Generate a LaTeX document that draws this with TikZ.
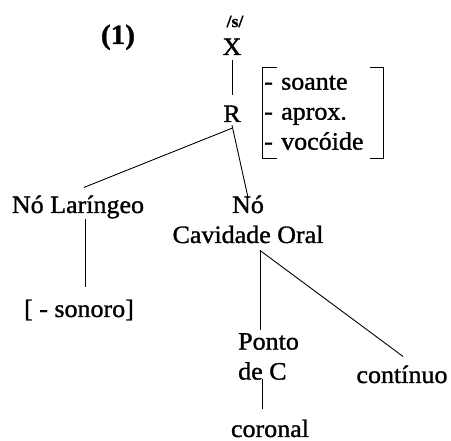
\documentclass[tikz,border=0pt]{standalone}
\usepackage{fontspec}
\setmainfont{Liberation Serif}[FakeStretch=1.04, FakeBold=1.2]
\begin{document}
\begin{tikzpicture}[x=1pt,y=-1pt,
  every node/.style={inner sep=0pt, font=\fontsize{25}{30}\selectfont},
  link/.style={draw, line width=0.9pt}]
\useasboundingbox[fill=white] (0,0) rectangle (451,441);
\node[anchor=base, font=\bfseries\fontsize{28}{30}\selectfont] (num) at (118,44) {(1)};
\node[anchor=base, font=\bfseries\fontsize{17}{17}\selectfont] (s) at (235,27) {/s/};
\node[anchor=base] (X) at (232,55) {X};
\node[anchor=base] (R) at (232,122) {R};
\node[anchor=north west, minimum width=121pt, minimum height=91pt, text width=117pt,
      align=left, inner xsep=2pt] (feat) at (262,67) {- soante\\- aprox.\\- vocóide};
\node[anchor=base] (lar) at (78,213) {Nó Laríngeo};
\node[anchor=base] (no) at (248,213) {Nó};
\node[anchor=base] (cav) at (248,243) {Cavidade Oral};
\node[anchor=base] (son) at (79,317) {[ - sonoro]};
\node[anchor=north west, align=left] (ponto) at (238,333) {Ponto\\de C};
\node[anchor=base] (cont) at (402,383) {contínuo};
\node[anchor=base] (cor) at (270,437) {coronal};
\coordinate (apex) at ([xshift=12pt,yshift=-7pt]cav.south);
% brackets
\draw[link] ([xshift=15pt]feat.north west) -- (feat.north west) -- (feat.south west) -- ++(15,0);
\draw[link] ([xshift=-13pt]feat.north east) -- (feat.north east) -- (feat.south east) -- ++(-13,0);
% connectors
\draw[link] ([yshift=-5pt]X.south) -- ([yshift=10pt]R.north);
\draw[link] ([yshift=-6pt]R.south) -- ([xshift=6pt,yshift=8pt]lar.north);
\draw[link] ([yshift=-3pt]R.south) -- ([yshift=-2pt]no.north);
\draw[link] ([xshift=7pt]lar.south) -- ([xshift=6pt,yshift=12pt]son.north);
\draw[link] (apex) -- ([yshift=3pt]apex |- ponto.north);
\draw[link] (apex) -- ([xshift=1pt,yshift=9pt]cont.north);
\draw[link] ([xshift=-8pt,yshift=10pt]cor.north) -- ++(0,-30);
\end{tikzpicture}
\end{document}
